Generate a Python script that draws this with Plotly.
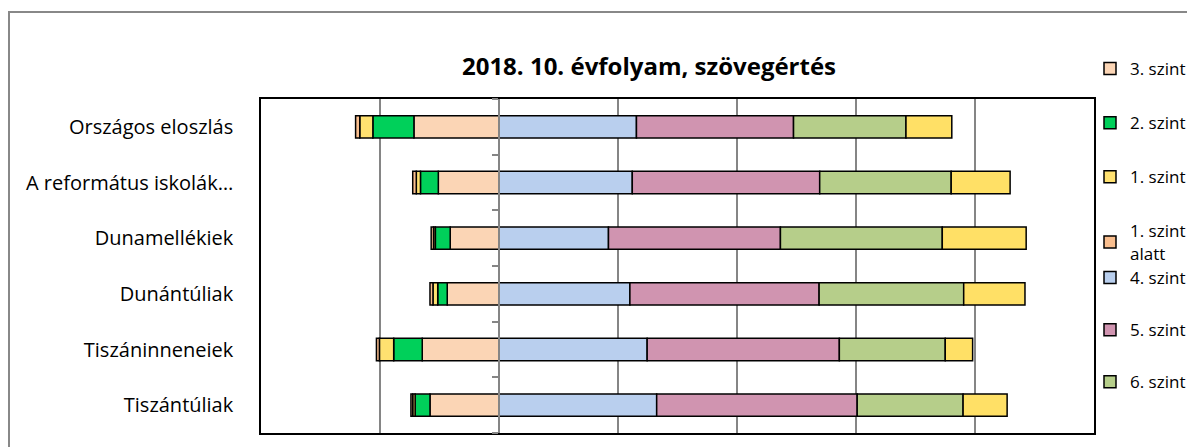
import plotly.graph_objects as go

categories = ["Országos eloszlás", "A református iskolák…", "Dunamellékiek",
              "Dunántúliak", "Tiszáninneneiek", "Tiszántúliak"]
# left side (below level 4)
szint3 = [14.3, 10.2, 8.2, 8.7, 12.9, 11.6]
szint2 = [6.9, 3.0, 2.5, 1.6, 4.8, 2.5]
szint1 = [2.2, 0.7, 0.3, 0.8, 2.4, 0.4]
alatt = [0.7, 0.6, 0.4, 0.5, 0.5, 0.3]
# right side
szint4 = [23.1, 22.4, 18.4, 22.0, 24.9, 26.5]
szint5 = [26.4, 31.5, 28.9, 31.8, 32.3, 33.7]
szint6 = [18.9, 22.1, 27.2, 24.3, 17.8, 17.8]
szint7 = [7.7, 9.9, 14.1, 10.3, 4.6, 7.4]

series = [
    ("3. szint", szint3, -1, "#FBD5B5", "legend"),
    ("2. szint", szint2, -1, "#00D05A", "legend"),
    ("1. szint", szint1, -1, "#FFE170", "legend"),
    ("1. szint<br>alatt", alatt, -1, "#F9BE8E", "legend"),
    ("4. szint", szint4, 1, "#B9CFEE", "legend2"),
    ("5. szint", szint5, 1, "#D094B0", "legend2"),
    ("6. szint", szint6, 1, "#B6CE8A", "legend2"),
    ("7. szint", szint7, 1, "#FFE066", None),
]

FONT = "Open Sans"
W, H = 1187, 439  # page has an 8px body margin
fig = go.Figure()
for name, vals, sign, color, leg in series:
    fig.add_trace(go.Bar(
        y=categories, x=[sign * v for v in vals], name=name, orientation="h",
        marker=dict(color=color, line=dict(color="black", width=1.5)),
        legendgroup=name, showlegend=leg is not None, legend=leg or "legend",
    ))

n = len(categories)
boundaries = [i - 0.5 for i in range(n + 1)]

L, T = 253, 91
PW, PH = 833, 334


def py(page_y):
    # page pixel y -> paper coordinate (plot area spans page y 99..433)
    return 1 + (99 - page_y) / PH


legend_common = dict(x=(1090 - 261) / PW, xanchor="left", yanchor="top", traceorder="grouped",
                     font=dict(size=17, family=FONT), bgcolor="rgba(0,0,0,0)", maxheight=420)

fig.update_layout(
    width=W, height=H,
    barmode="relative", bargap=0.6,
    paper_bgcolor="white", plot_bgcolor="white",
    margin=dict(l=L, r=W - L - PW, t=T, b=H - T - PH, autoexpand=False),
    font=dict(family=FONT, color="black"),
    title=dict(text="<b>2018. 10. évfolyam, szövegértés</b>", font=dict(size=24, family=FONT),
               x=(649 - 261) / PW, xref="paper", xanchor="center",
               y=1 - (67 - 8) / H, yref="container", yanchor="middle"),
    xaxis=dict(range=[-40, 100], dtick=20, showgrid=True, gridcolor="#858585", gridwidth=1.5,
               zeroline=False, showticklabels=False, ticks="",
               showline=True, mirror=True, linecolor="black", linewidth=1.5),
    yaxis=dict(type="category", categoryorder="array", categoryarray=categories,
               autorange="reversed", ticks="", showline=True, mirror=True,
               linecolor="black", linewidth=1.5, tickfont=dict(size=20, family=FONT),
               ticklabelstandoff=22),
    yaxis2=dict(overlaying="y", anchor="free", position=40 / 140, range=[n - 0.5, -0.5],
                tickvals=boundaries, showticklabels=False, ticks="outside", ticklen=6,
                tickcolor="#858585", tickwidth=1.5, showline=True, linecolor="#858585",
                linewidth=1.5, showgrid=False, zeroline=False),
    legend=dict(y=py(51), tracegroupgap=29, **legend_common),
    legend2=dict(y=py(260), tracegroupgap=27, **legend_common),
    shapes=[dict(type="rect", xref="paper", yref="paper", x0=(9 - 261) / PW, y0=-1, x1=2,
                 y1=py(12), line=dict(color="#888888", width=2), layer="below")],
)
# empty trace to activate the zero-line axis with boundary ticks
fig.add_trace(go.Scatter(x=[None], y=[None], yaxis="y2", showlegend=False, hoverinfo="skip"))

fig.write_html("out.html")
